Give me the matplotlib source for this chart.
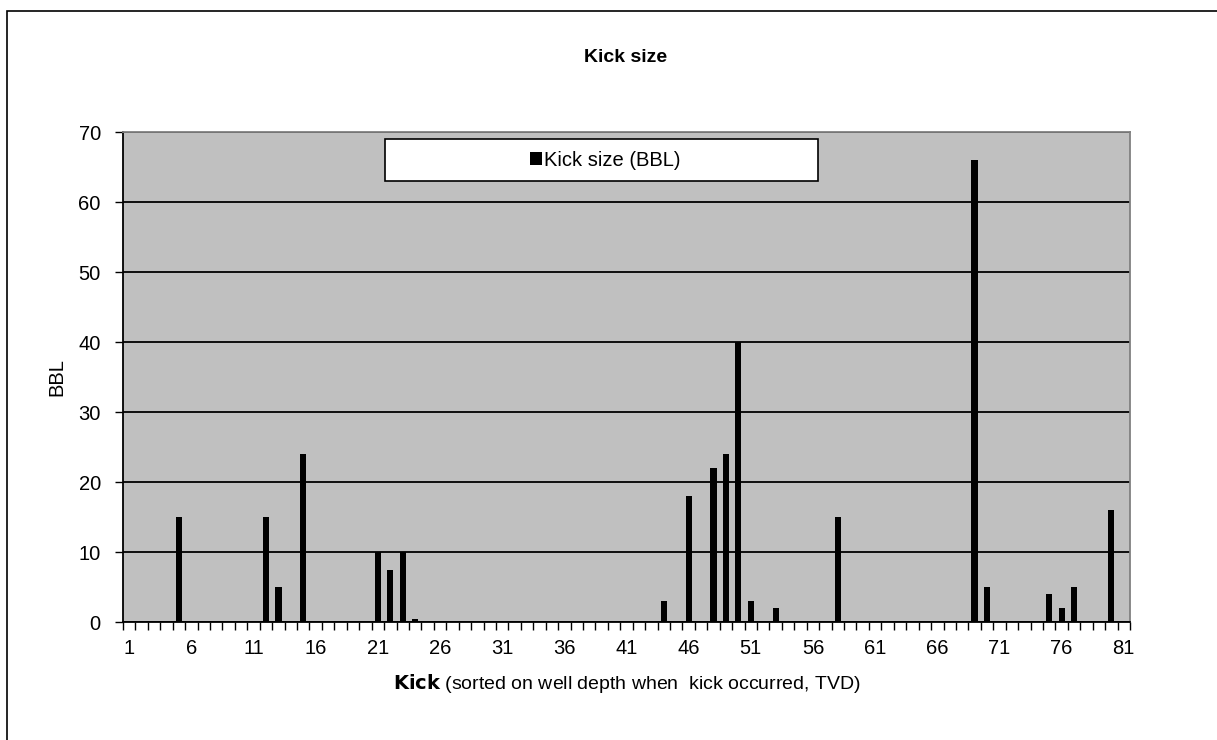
import matplotlib.pyplot as plt
from matplotlib.patches import Rectangle
import numpy as np

# kick number (sorted on TVD) and kick size in barrels
kicks = list(range(1, 82))
kick_ids = [5, 12, 13, 15, 21, 22, 23, 24, 44, 46, 48, 49, 50, 51, 53, 58,
            69, 70, 75, 76, 77, 80]
kick_bbl = [15, 15, 5, 24, 10, 7.5, 10, 0.5, 3, 18, 22, 24, 40, 3, 2, 15,
            66, 5, 4, 2, 5, 16]
tick_labels = [str(k) for k in range(1, 82, 5)]

sizes = np.zeros(len(kicks))
for k, v in zip(kick_ids, kick_bbl):
    sizes[k - 1] = v

plt.rcParams['font.family'] = ['Liberation Sans', 'DejaVu Sans']

fig = plt.figure(figsize=(12.17, 7.4), dpi=100)
ax = fig.add_axes([123 / 1217, 118 / 740, 1007 / 1217, 490 / 740])

# outer chart frame
fig.patches.append(Rectangle((7 / 1217, -0.05), 1.1, (740 - 11) / 740 + 0.05,
                             transform=fig.transFigure, fill=False,
                             edgecolor='black', lw=1.2, zorder=0))

ax.set_facecolor('#c0c0c0')
ax.bar(kicks, sizes, width=0.5, color='black', label='Kick size (BBL)', zorder=3)

ax.set_xlim(0.5, 81.5)
ax.set_ylim(0, 70)
ax.set_yticks(range(0, 71, 10))
ax.grid(axis='y', color='black', lw=1.3, zorder=1)
ax.set_axisbelow(True)

ax.set_xticks(range(1, 82, 5))
ax.set_xticklabels(tick_labels)
ax.set_xticks(np.arange(0.5, 82, 1), minor=True)
ax.tick_params(axis='x', which='major', length=0, pad=12, labelsize=14.5)
ax.tick_params(axis='x', which='minor', length=6, width=1, direction='out')
ax.tick_params(axis='y', length=6, width=1, direction='out', labelsize=14.5, pad=10)

for side in ['left', 'bottom']:
    ax.spines[side].set_color('black')
    ax.spines[side].set_linewidth(1.3)
for side in ['top', 'right']:
    ax.spines[side].set_color('#808080')
    ax.spines[side].set_linewidth(1.3)

ax.set_ylabel('BBL', fontsize=14.5, labelpad=9)
ax.set_xlabel(r'$\bf{Kick}$ (sorted on well depth when  kick occurred, TVD)',
              fontsize=14, labelpad=10)
fig.text(626 / 1217, 1 - 58 / 740, 'Kick size', fontsize=14, weight='bold',
         ha='center', va='center')

# legend box, drawn inside the axes so it sits above the bars
box = Rectangle((385 / 1217, 1 - 181 / 740), 433 / 1217, 42 / 740,
                transform=fig.transFigure, facecolor='white',
                edgecolor='black', lw=1.2, zorder=4, clip_on=False)
ax.add_patch(box)
leg = ax.legend(loc='center', bbox_to_anchor=(605 / 1217, 1 - 160 / 740),
                bbox_transform=fig.transFigure, frameon=False, fontsize=14.5,
                handlelength=0.6, handleheight=0.6, handletextpad=0.1)
leg.set_zorder(5)

fig.savefig('out.png', dpi=100)
